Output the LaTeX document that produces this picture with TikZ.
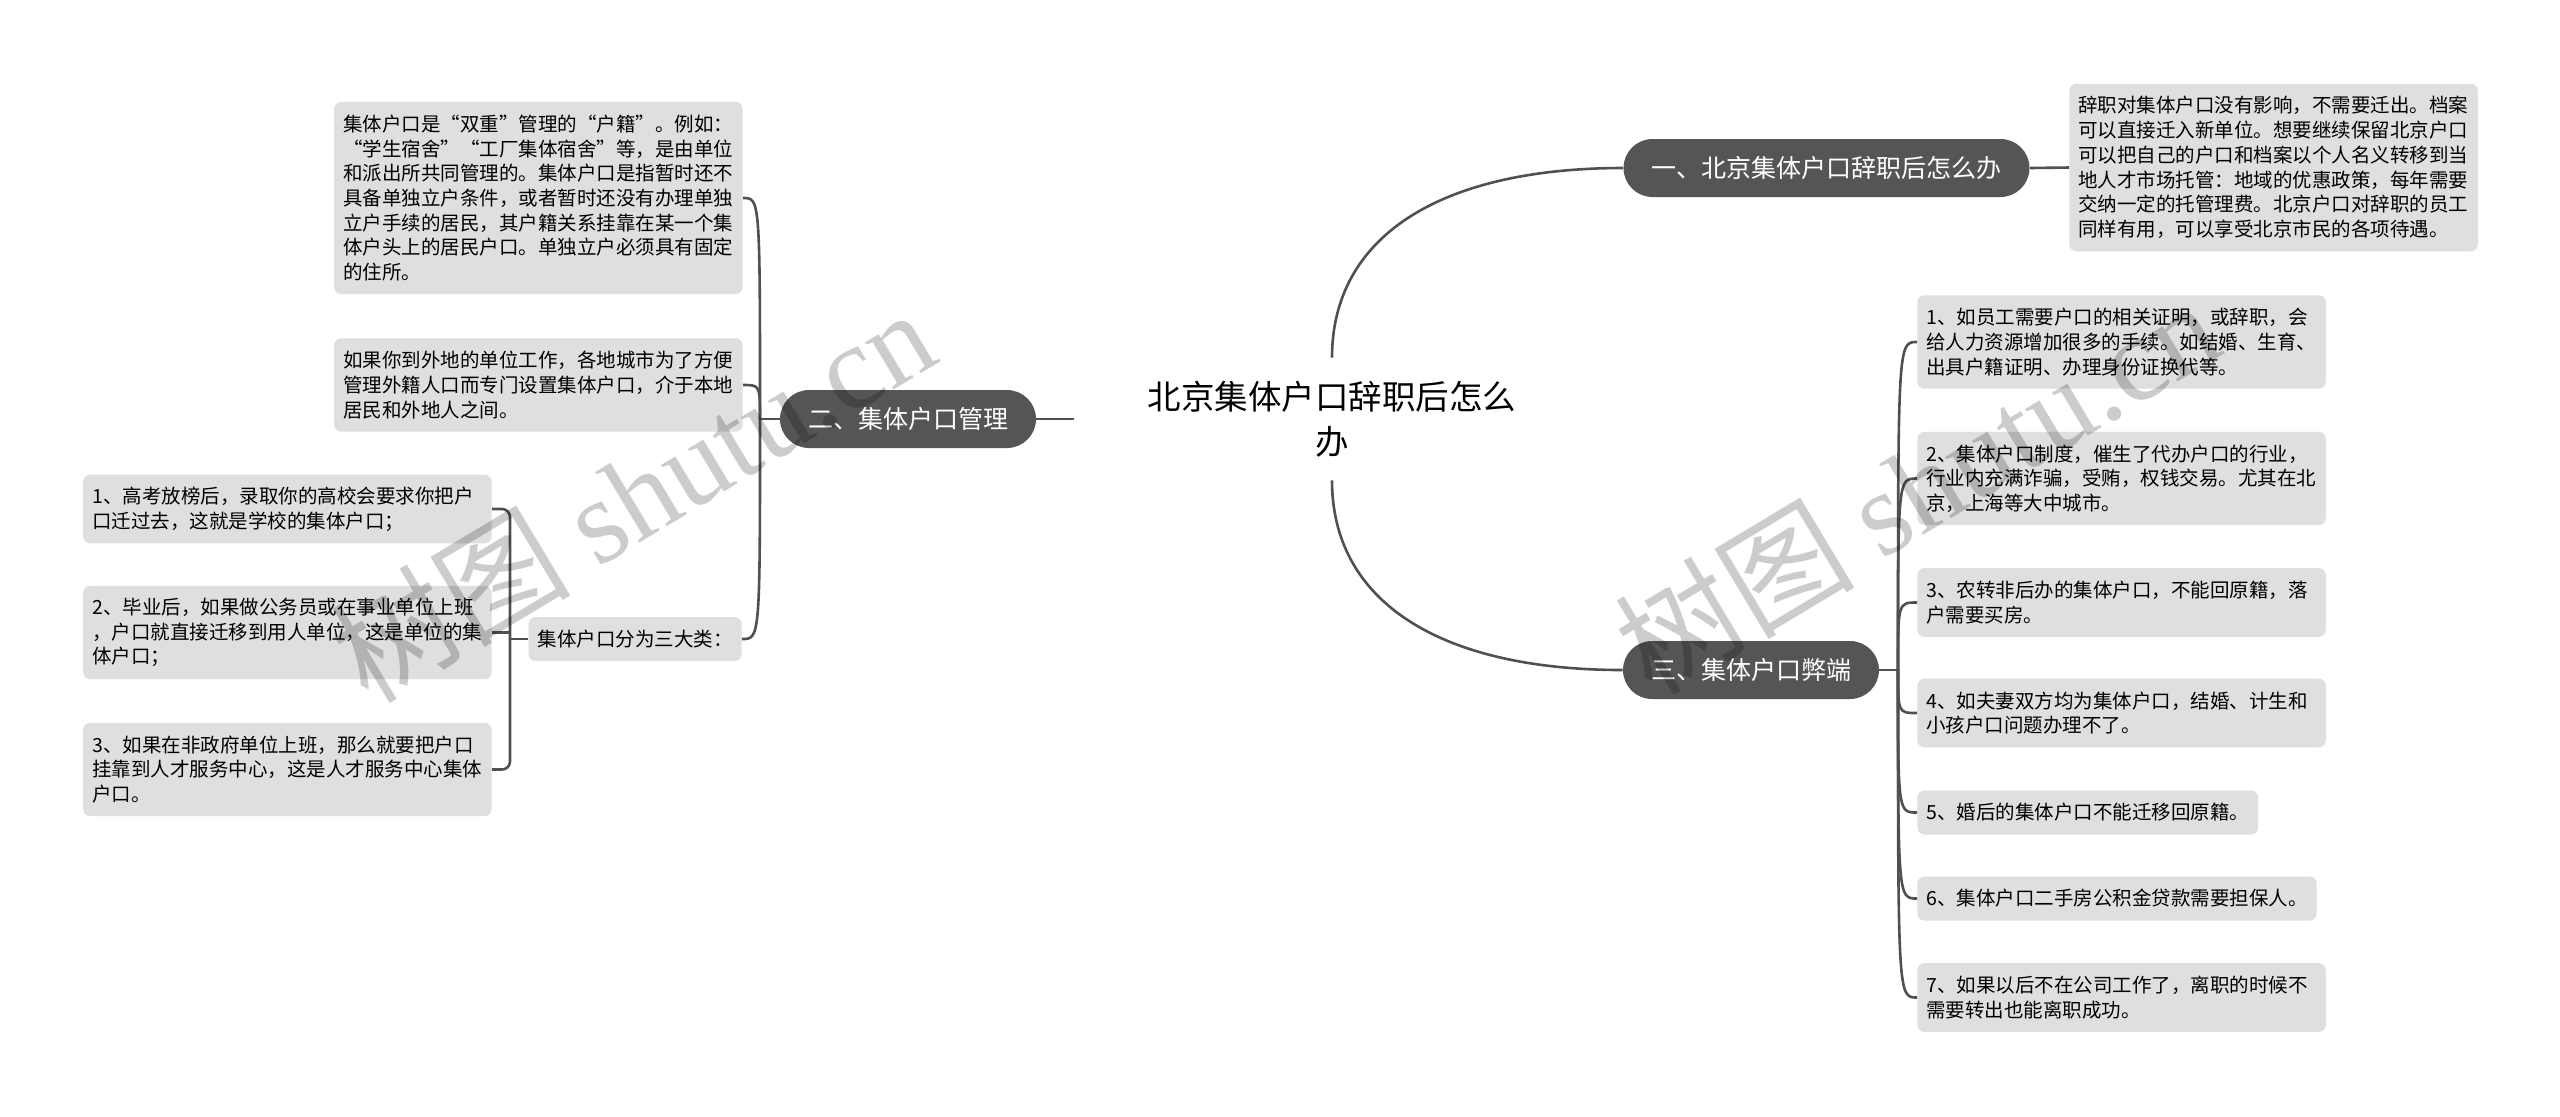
\documentclass[tikz,border=0pt]{standalone}
\usepackage{fontspec}
\setmainfont{Noto Sans CJK SC}
\newfontfamily\fwfont[RawFeature=+fwid]{Noto Sans CJK SC}
\newfontfamily\wmserif{Liberation Serif}
\newcommand{\qo}{{\fwfont “}}
\newcommand{\qc}{{\fwfont ”}}
\definecolor{linecol}{RGB}{80,80,80}
\definecolor{pillcol}{RGB}{85,85,85}
\definecolor{boxcol}{RGB}{223,223,223}
\tikzset{
  conn/.style={draw=linecol, line width=1.3pt},
  pill/.style={fill=pillcol, text=white, rounded corners=14.5pt, minimum height=29pt,
    inner xsep=14pt, inner ysep=0pt, font=\fontsize{12.5pt}{15pt}\selectfont},
  box/.style={fill=boxcol, rounded corners=3.5pt, inner xsep=4.5pt, inner ysep=0pt,
    align=left, font=\fontsize{9.75pt}{12.35pt}\selectfont},
  wbox/.style={box, text width=195.2pt},
  l1/.style={minimum height=22pt},
  l2/.style={minimum height=34.35pt},
  l3/.style={minimum height=46.7pt},
  l6/.style={minimum height=83.75pt},
  l7/.style={minimum height=96.1pt},
  wm/.style={text=black, text opacity=0.2, inner sep=0pt, font=\fontsize{60pt}{60pt}\selectfont},
}
\begin{document}
\begin{tikzpicture}[x=0.5pt, y=-0.5pt]
\fill[white] (0,0) rectangle (2560,1116);
\useasboundingbox (0,0) rectangle (2560,1116);

% central topic
\node[align=center, minimum width=258pt, minimum height=61pt, inner sep=0pt,
      font=\fontsize{16.75pt}{22.5pt}\selectfont] (ctr) at (1332,419)
  {北京集体户口辞职后怎么\\办};

% main branches
\node[pill] (n1) at (1826.5,168) {一、北京集体户口辞职后怎么办};
\node[pill] (n2) at (908,419) {二、集体户口管理};
\node[pill] (n3) at (1751,670) {三、集体户口弊端};

% branch 1 detail
\node[wbox, l6, anchor=west] (d1) at (2069,167.5)
  {辞职对集体户口没有影响，不需要迁出。档案\\可以直接迁入新单位。想要继续保留北京户口\\可以把自己的户口和档案以个人名义转移到当\\地人才市场托管：地域的优惠政策，每年需要\\交纳一定的托管理费。北京户口对辞职的员工\\同样有用，可以享受北京市民的各项待遇。};

% branch 2 details
\node[wbox, l7, anchor=east] (A) at (743,198)
  {集体户口是\qo 双重\qc 管理的\qo 户籍\qc 。例如：\\\qo 学生宿舍\qc\qo 工厂集体宿舍\qc 等，是由单位\\和派出所共同管理的。集体户口是指暂时还不\\具备单独立户条件，或者暂时还没有办理单独\\立户手续的居民，其户籍关系挂靠在某一个集\\体户头上的居民户口。单独立户必须具有固定\\的住所。};
\node[wbox, l3, anchor=east] (B) at (743,385)
  {如果你到外地的单位工作，各地城市为了方便\\管理外籍人口而专门设置集体户口，介于本地\\居民和外地人之间。};
\node[box, l1, anchor=east] (C) at (742,639) {集体户口分为三大类：};
\node[wbox, l2, anchor=east] (L1) at (492,509)
  {1、高考放榜后，录取你的高校会要求你把户\\口迁过去，这就是学校的集体户口；};
\node[wbox, l3, anchor=east] (L2) at (492,632.5)
  {2、毕业后，如果做公务员或在事业单位上班\\，户口就直接迁移到用人单位，这是单位的集\\体户口；};
\node[wbox, l3, anchor=east] (L3) at (492,769.5)
  {3、如果在非政府单位上班，那么就要把户口\\挂靠到人才服务中心，这是人才服务中心集体\\户口。};

% branch 3 details
\node[wbox, l3, anchor=west] (R1) at (1917,342)
  {1、如员工需要户口的相关证明，或辞职，会\\给人力资源增加很多的手续。如结婚、生育、\\出具户籍证明、办理身份证换代等。};
\node[wbox, l3, anchor=west] (R2) at (1917,478.5)
  {2、集体户口制度，催生了代办户口的行业，\\行业内充满诈骗，受贿，权钱交易。尤其在北\\京，上海等大中城市。};
\node[wbox, l2, anchor=west] (R3) at (1917,602.5)
  {3、农转非后办的集体户口，不能回原籍，落\\户需要买房。};
\node[wbox, l2, anchor=west] (R4) at (1917,713)
  {4、如夫妻双方均为集体户口，结婚、计生和\\小孩户口问题办理不了。};
\node[box, l1, anchor=west] (R5) at (1917,812.5) {5、婚后的集体户口不能迁移回原籍。};
\node[box, l1, anchor=west] (R6) at (1917,898.5) {6、集体户口二手房公积金贷款需要担保人。};
\node[wbox, l2, anchor=west] (R7) at (1917,997.5)
  {7、如果以后不在公司工作了，离职的时候不\\需要转出也能离职成功。};

% junction points
\coordinate (b2) at (760,419);
\coordinate (b3) at (510,639);
\coordinate (b4) at (1898,670);

% connectors from the centre
\draw[conn] (ctr.north) .. controls +(0,-120) and +(-185,0) .. (n1.west);
\draw[conn] (ctr.south) .. controls +(0,120) and +(-185,0) .. (n3.west);
\draw[conn] (ctr.west) -- (n2.east);

% branch 1
\draw[conn] (n1.east) -- (d1.west);

% branch 2
\draw[conn] (n2.west) -- (b2);
\draw[conn] (b2) .. controls (b2 |- A.east) .. (A.east);
\draw[conn] (b2) .. controls (b2 |- B.east) .. (B.east);
\draw[conn] (b2) .. controls (b2 |- C.east) .. (C.east);
\draw[conn] (C.west) -- (b3);
\draw[conn, rounded corners=4pt] (b3) |- (L1.east);
\draw[conn] (b3) |- (L2.east);
\draw[conn, rounded corners=4pt] (b3) |- (L3.east);

% branch 3
\draw[conn] (n3.east) -- (b4);
\foreach \r in {R1,R2,R3,R4,R5,R6,R7}
  \draw[conn] (b4) .. controls (b4 |- \r.west) .. (\r.west);

% watermarks
\node[wm, rotate=31, anchor=base west] (wm1) at (368,706) {树图 {\wmserif shutu.cn}};
\node[wm, rotate=31, anchor=base west] (wm2) at (1652,698) {树图 {\wmserif shutu.cn}};
\end{tikzpicture}
\end{document}
